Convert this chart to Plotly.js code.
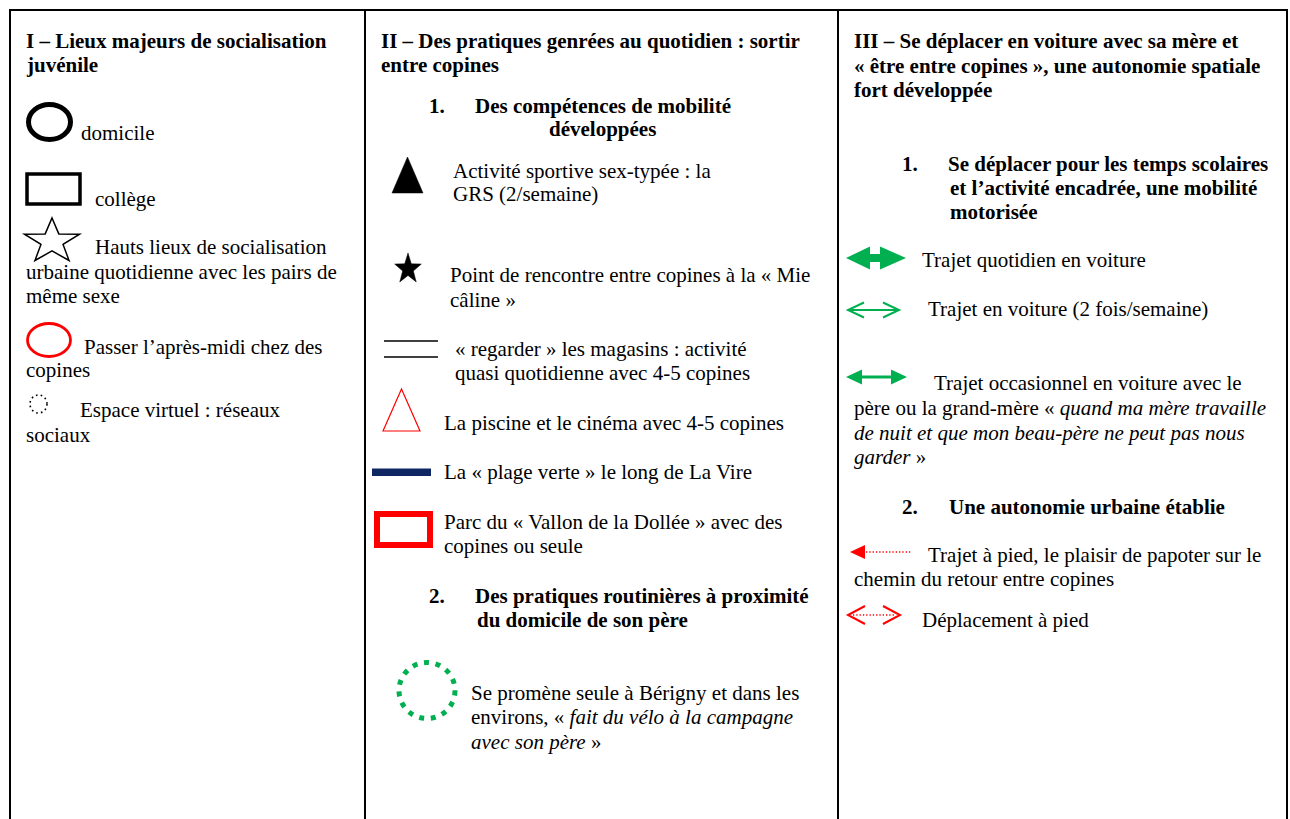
<!DOCTYPE html>
<html>
<head>
<meta charset="utf-8">
<script src="https://cdn.plot.ly/plotly-3.0.1.min.js"></script>
<style>html,body{margin:0;padding:0;background:#fff;}#chart{width:1290px;height:819px;}</style>
</head>
<body>
<div id="chart"></div>
<script>
// ---- texts (data) ----
const col1Text = [
  "I – Lieux majeurs de socialisation", "juvénile",
  "domicile", "collège",
  "Hauts lieux de socialisation", "urbaine quotidienne avec les pairs de", "même sexe",
  "Passer l’après-midi chez des", "copines",
  "Espace virtuel : réseaux", "sociaux"
];
const col2Text = [
  "II – Des pratiques genrées au quotidien : sortir", "entre copines",
  "1.", "Des compétences de mobilité", "développées",
  "Activité sportive sex-typée : la", "GRS (2/semaine)",
  "Point de rencontre entre copines à la « Mie", "câline »",
  "« regarder » les magasins : activité", "quasi quotidienne avec 4-5 copines",
  "La piscine et le cinéma avec 4-5 copines",
  "La « plage verte » le long de La Vire",
  "Parc du « Vallon de la Dollée » avec des", "copines ou seule",
  "2.", "Des pratiques routinières à proximité", "du domicile de son père",
  "Se promène seule à Bérigny et dans les", "environs, « <i>fait du vélo à la campagne</i>", "<i>avec son père</i> »"
];
const col3Text = [
  "III – Se déplacer en voiture avec sa mère et", "« être entre copines », une autonomie spatiale", "fort développée",
  "1.", "Se déplacer pour les temps scolaires", "et l’activité encadrée, une mobilité", "motorisée",
  "Trajet quotidien en voiture",
  "Trajet en voiture (2 fois/semaine)",
  "Trajet occasionnel en voiture avec le", "père ou la grand-mère « <i>quand ma mère travaille</i>",
  "<i>de nuit et que mon beau-père ne peut pas nous</i>", "<i>garder</i> »",
  "2.", "Une autonomie urbaine établie",
  "Trajet à pied, le plaisir de papoter sur le", "chemin du retour entre copines",
  "Déplacement à pied"
];
const col1Bold = [1,1,0,0,0,0,0,0,0,0,0];
const col2Bold = [1,1,1,1,1,0,0,0,0,0,0,0,0,0,0,1,1,1,0,0,0];
const col3Bold = [1,1,1,1,1,1,1,0,0,0,0,0,0,1,1,0,0,0];

// ---- placement (layout, pixel space) ----
const col1Pos = [[25,41],[25,65],[80,133],[94,199],[94,247],[25,272],[25,296],[83,347],[25,370],[79,410],[25,435]];
const col2Pos = [[380,41],[380,65],[428,106],[474,106],[548,129],[452,171],[452,194],[449,275],[449,300],[454,349],[454,373],
  [443,423],[443,472],[443,522],[443,546],[428,596],[474,596],[476,620],[470,693],[470,717],[470,742]];
const col3Pos = [[853,41],[853,66],[853,90],[901,164],[947,164],[949,188],[949,212],[921,260],[927,309],[933,383],[853,408],
  [853,433],[853,457],[901,507],[948,507],[927,555],[853,579],[921,620]];

const FONT = "Liberation Serif";
const FS = 21;
const GREEN = "#00b050", RED = "#ff0000", NAVY = "#0e2763";

const annotations = [];
function addCol(texts, pos, bold) {
  texts.forEach((t, i) => {
    annotations.push({
      x: pos[i][0], y: pos[i][1], xref: 'x', yref: 'y',
      xanchor: 'left', yanchor: 'middle', align: 'left', showarrow: false,
      borderpad: 0,
      text: bold[i] ? '<b>' + t + '</b>' : t,
      font: {family: FONT, size: FS, color: '#000'}
    });
  });
}
addCol(col1Text, col1Pos, col1Bold);
addCol(col2Text, col2Pos, col2Bold);
addCol(col3Text, col3Pos, col3Bold);

function starPath(cx, cy, rx, ry, inner) {
  let d = '';
  for (let k = 0; k < 10; k++) {
    const a = -Math.PI / 2 + k * Math.PI / 5;
    const r = (k % 2 === 0) ? 1 : inner;
    const px = cx + rx * r * Math.cos(a), py = cy + ry * r * Math.sin(a);
    d += (k === 0 ? 'M' : 'L') + px.toFixed(2) + ',' + py.toFixed(2);
  }
  return d + 'Z';
}

const L = (c, w, dash) => ({color: c, width: w, dash: dash || 'solid'});
const shapes = [
  // table frame
  {type:'line', x0:10, x1:1287, y0:10, y1:10, line:L('#000',2)},
  {type:'line', x0:10, x1:10, y0:9, y1:819, line:L('#000',2)},
  {type:'line', x0:365, x1:365, y0:9, y1:819, line:L('#000',2)},
  {type:'line', x0:838, x1:838, y0:9, y1:819, line:L('#000',2)},
  {type:'line', x0:1287, x1:1287, y0:9, y1:819, line:L('#000',2)},
  // column I symbols
  {type:'circle', x0:28.5, x1:70.5, y0:104.5, y1:139.5, line:L('#000',5)},
  {type:'rect', x0:27, x1:80, y0:174, y1:204, line:L('#000',3.5)},
  {type:'path', path:starPath(52, 241.5, 29, 23.5, 0.40), line:L('#000',1.5)},
  {type:'circle', x0:27.5, x1:70.5, y0:323.5, y1:356.5, line:L(RED,2.8)},
  {type:'circle', x0:30, x1:47, y0:395, y1:413, line:L('#000',1.6,'1.6px,3.2px')},
  // column II symbols
  {type:'path', path:'M392,193 L407.5,157 L423,193 Z', fillcolor:'#000', line:L('#000',0.5)},
  {type:'path', path:starPath(408, 269, 14, 16, 0.40), fillcolor:'#000', line:L('#000',0.5)},
  {type:'line', x0:384, x1:438, y0:341, y1:341, line:L('#000',1.6)},
  {type:'line', x0:384, x1:438, y0:357, y1:357, line:L('#000',1.6)},
  {type:'path', path:'M383,431 L401.5,389 L420,431 Z', line:L(RED,1.2)},
  {type:'rect', x0:372, x1:431, y0:468.5, y1:476, fillcolor:NAVY, line:{width:0}},
  {type:'rect', x0:377, x1:430, y0:514, y1:545, line:L(RED,6)},
  {type:'circle', x0:399, x1:455, y0:662.5, y1:718.5, line:L(GREEN,5,'5px,6.7px')},
  // column III symbols
  {type:'path', path:'M846,258 L870,246.5 L870,254 L880,254 L880,246.5 L906,258 L880,269.5 L880,262 L870,262 L870,269.5 Z', fillcolor:GREEN, line:{width:0}},
  {type:'line', x0:849, x1:898, y0:310, y1:310, line:L(GREEN,2)},
  {type:'path', path:'M864,302.5 L848,310 L864,317.5', line:L(GREEN,2)},
  {type:'path', path:'M883,302.5 L899,310 L883,317.5', line:L(GREEN,2)},
  {type:'line', x0:860, x1:893, y0:377, y1:377, line:L(GREEN,3)},
  {type:'path', path:'M846,377 L862,369.5 L862,384.5 Z', fillcolor:GREEN, line:{width:0}},
  {type:'path', path:'M907,377 L891,369.5 L891,384.5 Z', fillcolor:GREEN, line:{width:0}},
  {type:'path', path:'M850,552 L865,545 L865,559 Z', fillcolor:RED, line:{width:0}},
  {type:'line', x0:866, x1:911, y0:552, y1:552, line:L(RED,1.3,'1.3px,2px')},
  {type:'path', path:'M865,606 L848,615 L865,624', line:L(RED,2)},
  {type:'path', path:'M883,606 L900,615 L883,624', line:L(RED,2)},
  {type:'line', x0:853, x1:895, y0:615, y1:615, line:L(RED,1.3,'1.3px,2px')}
].map(s => Object.assign({xref:'x', yref:'y', layer:'above'}, s));

const layout = {
  width: 1290, height: 819,
  margin: {l:0, r:0, t:0, b:0, pad:0},
  paper_bgcolor: '#fff', plot_bgcolor: '#fff',
  showlegend: false,
  xaxis: {range:[0,1290], visible:false, fixedrange:true},
  yaxis: {range:[819,0], visible:false, fixedrange:true},
  shapes: shapes,
  annotations: annotations
};

Plotly.newPlot('chart', [{x:[], y:[], type:'scatter', mode:'markers', hoverinfo:'skip'}], layout, {staticPlot:true, displayModeBar:false});
</script>
</body>
</html>
